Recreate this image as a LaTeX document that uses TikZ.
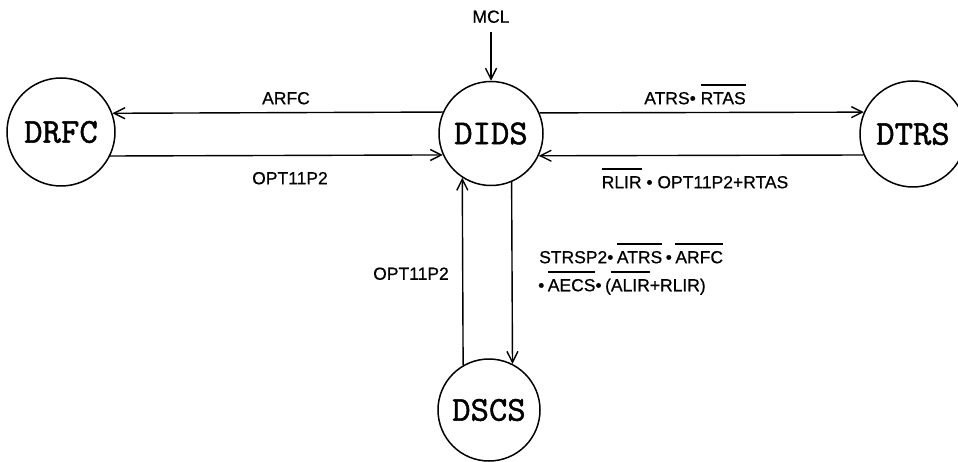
\documentclass[tikz,border=0pt]{standalone}
\usepackage{fontspec}
\newfontfamily\labfont{Liberation Sans}[FakeBold=0.6]
\newfontfamily\statefont{lmmono10-regular.otf}[FakeBold=1.2]
\usetikzlibrary{arrows.meta}
\newcommand\ovl[1]{\vbox{\hrule height 1.4pt\kern 6.5pt\hbox{#1}}}
\begin{document}
\begin{tikzpicture}[x=1pt,y=1pt,
  state/.style={circle, draw, line width=1.5pt, inner sep=0pt,
    font=\fontsize{35}{35}\selectfont\statefont},
  flow/.style={line width=1.4pt, -{Straight Barb[length=11pt,width=11pt,line width=1.4pt]}},
  lab/.style={font=\fontsize{17.5}{21}\selectfont\labfont, inner sep=0pt, anchor=base}]
\useasboundingbox (0,0) rectangle (958,461);
\fill[white] (0,0) rectangle (958,461);
% states
\node[state, minimum size=108pt] (drfc) at (61,329) {DRFC};
\node[state, minimum size=104pt] (dids) at (491,327.5) {DIDS};
\node[state, minimum size=106pt] (dtrs) at (913,327) {DTRS};
\node[state, minimum size=102pt] (dscs) at (489,51) {DSCS};
% external input
\node[lab] (mcl) at (491,438.25) {MCL};
\draw[flow, shorten <=9pt] (mcl) -- (dids);
% connectors
\draw[flow] (dids.156.8) -- (drfc.20.6);
\draw[flow] (drfc.334.8) -- (dids.204.4);
\draw[flow] (dids.23.2) -- (dtrs.156.7);
\draw[flow] (dtrs.203.3) -- (dids.335.6);
\draw[flow] (dscs.120.6) -- (dids.237.4);
\draw[flow] (dids.293.8) -- (dscs.63.2);
% labels
\node[lab] (l1) at (286,356.75) {ARFC};
\node[lab] (l2) at (290,276.75) {OPT11P2};
\node[lab] (l3) at (695,356.75) {ATRS• \ovl{RTAS}};
\node[lab] (l4) at (695,272.75) {\ovl{RLIR} • OPT11P2+RTAS};
\node[lab] (l5) at (411,181.25) {OPT11P2};
\node[lab, anchor=base west] (l6) at (539,197.75) {STRSP2•\hspace{0.2em}\ovl{ATRS}\hspace{0.2em}•\hspace{0.2em}\ovl{ARFC}};
\node[lab, anchor=base west] (l7) at (538,169.75) {•\hspace{0.2em}\ovl{AECS}•\hspace{0.2em}(\ovl{ALIR}+RLIR)};
\end{tikzpicture}
\end{document}
